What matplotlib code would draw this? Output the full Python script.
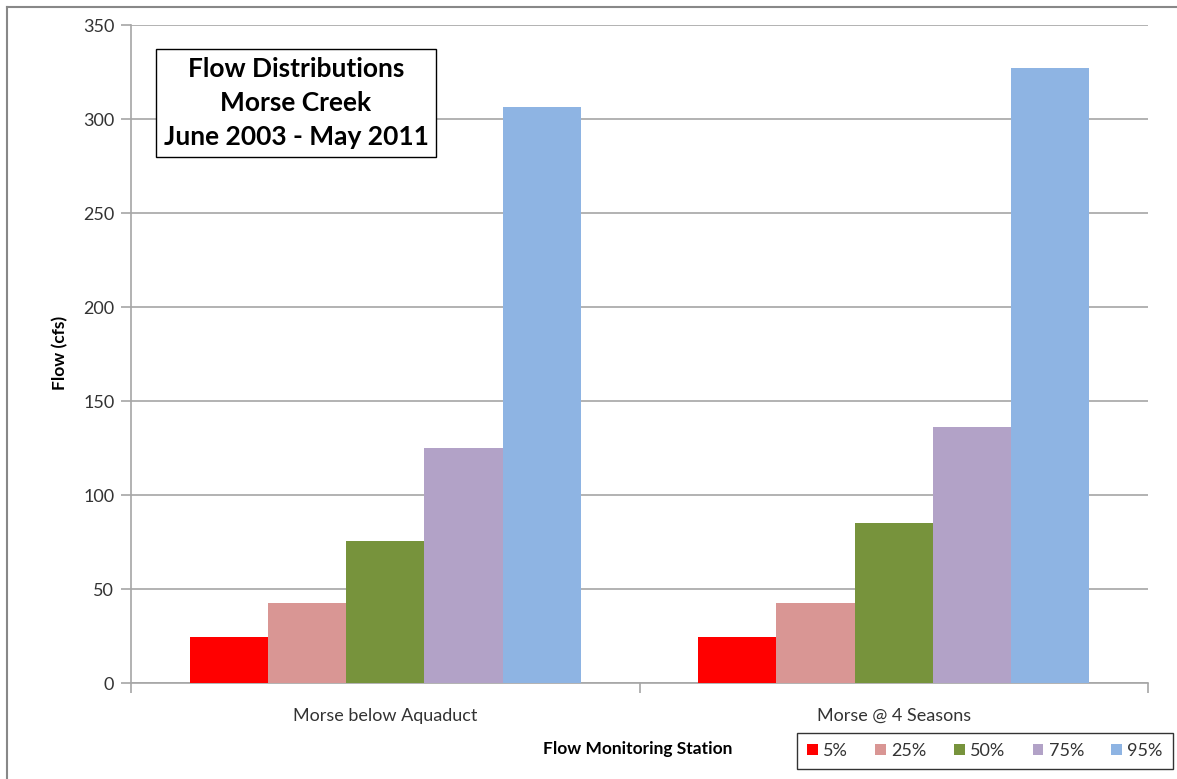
import matplotlib
matplotlib.use("Agg")
import matplotlib.pyplot as plt
from matplotlib.lines import Line2D
from matplotlib.patches import Patch
import numpy as np

stations = ["Morse below Aquaduct", "Morse @ 4 Seasons"]
percentiles = ["5%", "25%", "50%", "75%", "95%"]
flow_5 = [24.5, 24.5]
flow_25 = [42.5, 42.5]
flow_50 = [75.5, 85.0]
flow_75 = [125.0, 136.0]
flow_95 = [306.5, 327.0]
colors = ["#ff0000", "#d99694", "#77933c", "#b2a2c7", "#8eb4e3"]
yticks = [0, 50, 100, 150, 200, 250, 300, 350]

plt.rcParams["font.family"] = ["Lato", "DejaVu Sans"]

W, H = 1177, 779
fig = plt.figure(figsize=(W / 100, H / 100), dpi=100)
ax = fig.add_axes([131 / W, 96 / H, (1148 - 131) / W, (683 - 25) / H])

series = [flow_5, flow_25, flow_50, flow_75, flow_95]
x = np.arange(len(stations))
bw = 0.1538
for i, (vals, col) in enumerate(zip(series, colors)):
    ax.bar(x + (i - 2) * bw, vals, width=bw, color=col, zorder=3, linewidth=0)

ax.set_xlim(-0.5, 1.5)
ax.set_ylim(0, 350)
ax.set_yticks(yticks)
ax.set_yticklabels([str(v) for v in yticks], fontsize=13, color="#333333")
ax.yaxis.grid(True, color="#a6a6a6", linewidth=1.2, zorder=0)
ax.tick_params(axis="y", length=7, color="#a6a6a6", width=1.2, pad=5)

# category labels centred, tick marks on the category boundaries
ax.set_xticks(x)
ax.set_xticklabels(stations, fontsize=13, color="#333333")
ax.tick_params(axis="x", length=0, pad=18)
ax.set_xticks([-0.5, 0.5, 1.5], minor=True)
ax.tick_params(axis="x", which="minor", length=7, color="#a6a6a6", width=1.2)

for s in ["top", "right"]:
    ax.spines[s].set_visible(False)
for s in ["left", "bottom"]:
    ax.spines[s].set_color("#a6a6a6")
    ax.spines[s].set_linewidth(1.2)

fig.text(60 / W, 1 - 353 / H, "Flow (cfs)", rotation=90, fontsize=12.5,
         fontweight="bold", ha="center", va="center")
fig.text(638 / W, 1 - 749 / H, "Flow Monitoring Station", fontsize=12.5,
         fontweight="bold", ha="center", va="center")

fig.text(296 / W, 1 - 103 / H, "Flow Distributions\nMorse Creek\nJune 2003 - May 2011",
         fontsize=19, fontweight="bold", ha="center", va="center",
         linespacing=1.5, zorder=5,
         bbox=dict(boxstyle="square,pad=0.3", facecolor="white",
                   edgecolor="black", linewidth=1.0))

handles = [Patch(facecolor=c, edgecolor="none") for c in colors]
leg = fig.legend(handles, percentiles, loc="center",
                 bbox_to_anchor=(985 / W, 1 - 751 / H), ncol=5, fontsize=13,
                 frameon=True, fancybox=False, handlelength=0.6, handleheight=0.6,
                 handletextpad=0.3, columnspacing=1.5, borderpad=0.55)
leg.get_frame().set_edgecolor("black")
leg.get_frame().set_linewidth(1.0)
for t in leg.get_texts():
    t.set_color("#333333")

# outer chart frame
fig.add_artist(Line2D([7 / W, 7 / W], [0, 1 - 7 / H], color="#888888", linewidth=1.5))
fig.add_artist(Line2D([7 / W, 1], [1 - 7 / H, 1 - 7 / H], color="#888888", linewidth=1.5))

fig.savefig("out.png", dpi=100, facecolor="white")
